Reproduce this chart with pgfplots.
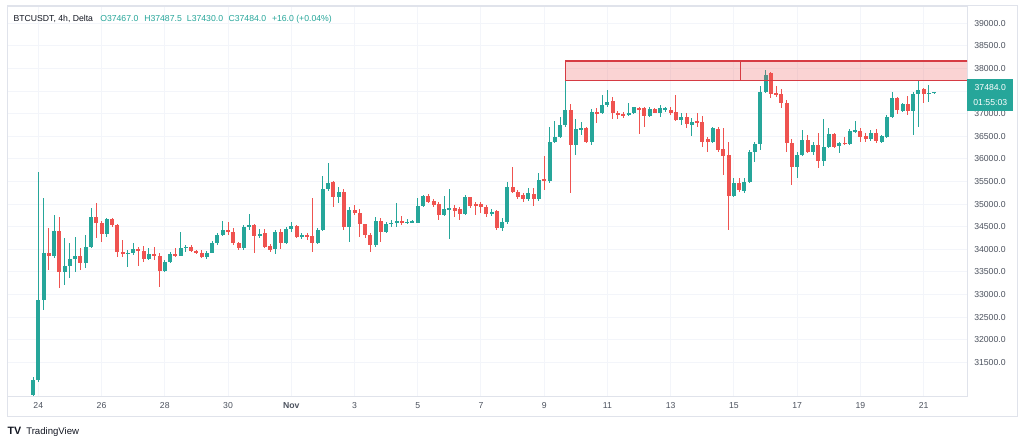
\documentclass[border=0pt]{standalone}
\usepackage{fontspec}
\setmainfont{Liberation Sans}
\usepackage{pgfplots}
\usepackage{pgfplotstable}
\pgfplotsset{compat=1.18}
\definecolor{cgreen}{HTML}{26A69A}
\definecolor{cred}{HTML}{EF5350}
\definecolor{zoneedge}{HTML}{D63B43}
\definecolor{gridc}{HTML}{F3F5FA}
\definecolor{framec}{HTML}{E0E3EB}
\definecolor{txt}{HTML}{131722}
\definecolor{axtxt}{HTML}{4C525E}

\pgfplotstableread{
i o h l c
0 30780 31180 30760 31110
1 31110 35717 31060 32878
2 32878 35142 32657 33912
3 33918 34471 33542 33852
4 33852 34759 33808 34412
5 34412 34721 33137 33504
6 33504 34243 33210 33630
7 33630 34146 33358 33779
8 33779 34265 33504 33852
9 33852 34022 33542 33704
10 33704 34316 33580 34044
11 34044 34907 34022 34708
12 34708 35031 34243 34589
13 34589 34633 34168 34338
14 34338 34686 34265 34664
15 34664 34686 34494 34538
16 34538 34560 33836 33947
17 33947 34206 33836 33896
18 33896 33984 33602 33925
19 33925 34146 33880 34000
20 34000 34044 33630 33970
21 33970 34073 33726 33779
22 33779 34022 33770 33896
23 33896 34044 33763 33852
24 33852 33912 33173 33527
25 33527 33763 33504 33726
26 33726 33947 33690 33896
27 33896 34022 33836 33860
28 33860 34390 33850 34036
29 34036 34095 33947 34060
30 34060 34090 33947 33970
31 33970 33990 33900 33925
32 33925 33975 33800 33823
33 33823 33960 33780 33925
34 33925 34190 33910 34133
35 34133 34368 34100 34316
36 34316 34633 34290 34427
37 34427 34611 34316 34390
38 34390 34480 34100 34133
39 34133 34170 33980 34022
40 34022 34538 33980 34500
41 34500 34774 34427 34538
42 34538 34560 33925 34294
43 34294 34442 34243 34338
44 34354 34442 34022 34057
45 34073 34117 33947 33984
46 34000 34427 33896 34389
47 34389 34442 34000 34133
48 34133 34500 34117 34442
49 34442 34611 34389 34515
50 34515 34538 34243 34265
51 34279 34354 34221 34316
52 34316 34368 34206 34279
53 34294 35128 33947 34133
54 34133 34465 34117 34427
55 34427 35622 34411 35327
56 35327 35916 35296 35473
57 35496 35518 34943 35164
58 35164 35372 35018 35274
59 35274 35327 34427 34500
60 34500 34929 34168 34869
61 34869 34980 34759 34810
62 34810 34885 34265 34560
63 34560 34570 34243 34316
64 34316 34354 33947 34095
65 34095 34721 34044 34633
66 34633 34686 34168 34389
67 34389 34611 34368 34560
68 34560 34648 34500 34589
69 34589 35018 34500 34633
70 34633 34737 34538 34575
71 34589 34664 34560 34611
72 34600 34648 34575 34615
73 34589 35128 34575 34958
74 34958 35201 34929 35179
75 35179 35223 35018 35053
76 35075 35106 34929 34980
77 35002 35053 34648 34759
78 34759 35179 34737 34885
79 34869 35327 34221 34907
80 34907 34980 34721 34854
81 34885 34929 34648 34781
82 34781 35201 34759 35164
83 35150 35164 34907 34958
84 35002 35053 34759 34958
85 35002 35053 34810 34929
86 34943 34980 34721 34781
87 34781 34885 34737 34832
88 34854 34869 34427 34465
89 34465 34686 34411 34611
90 34611 35496 34560 35372
91 35372 35820 35239 35274
92 35274 35312 35106 35150
93 35201 35239 35053 35106
94 35106 35350 35075 35239
95 35223 35350 34958 35106
96 35106 35681 35075 35533
97 35549 36064 35312 35518
98 35518 36699 35460 36381
99 36381 36845 36345 36491
100 36491 36934 36456 36750
101 36750 38160 36712 37082
102 37082 37215 35239 36308
103 36308 36876 36086 36655
104 36639 36823 36529 36677
105 36677 36699 36345 36381
106 36381 37097 36308 37044
107 37044 37119 36787 37009
108 37009 37414 37000 37192
109 37192 37524 37155 37266
110 37288 37376 36876 37009
111 37009 37066 36876 36971
112 36990 37044 36898 36949
113 36971 37243 36949 37022
114 37009 37155 36990 37142
115 37119 37142 36551 37100
116 37119 37142 36712 36949
117 36949 37142 36920 37097
118 37097 37119 37009 37022
119 37022 37192 36920 37119
120 37082 37155 37044 37119
121 37082 37155 36971 37009
122 37044 37414 36845 36861
123 36861 37009 36750 36934
124 36934 37009 36677 36772
125 36750 36898 36507 36823
126 36845 37022 36712 36801
127 36823 36949 36270 36381
128 36434 36491 36159 36381
129 36381 36712 36345 36677
130 36655 36712 36159 36197
131 36212 36677 35644 36064
132 36086 36374 34427 35179
133 35179 35571 35150 35460
134 35460 35571 35274 35312
135 35296 35571 35250 35496
136 35496 36197 35473 36159
137 36159 36381 35938 36330
138 36330 37613 36197 37487
139 37487 37967 37465 37856
140 37894 37930 37341 37436
141 37465 37613 37376 37414
142 37436 37540 37119 37230
143 37230 37303 36159 36345
144 36345 36450 35420 35827
145 35827 36159 35571 36086
146 36086 36639 36064 36418
147 36418 36529 36120 36159
148 36159 36381 36086 36308
149 36308 36566 35792 35960
150 35960 36876 35843 36270
151 36270 36677 36234 36551
152 36551 36566 36250 36270
153 36285 36381 36124 36345
154 36358 36478 36308 36330
155 36330 36655 36308 36624
156 36602 36845 36566 36639
157 36624 36677 36381 36478
158 36507 36566 36381 36434
159 36434 36639 36403 36566
160 36566 36655 36345 36403
161 36381 36529 36358 36507
162 36478 36971 36456 36934
163 36934 37487 36898 37341
164 37341 37363 36990 37082
165 37066 37243 37044 37215
166 37215 37392 36971 37066
167 37066 37487 36529 37436
168 37436 37730 36699 37524
169 37540 37562 37243 37436
170 37436 37635 37266 37465
171 37467 37487.5 37430 37484
}\candles

\begin{document}
\begin{tikzpicture}
\path[use as bounding box] (0pt,0pt) rectangle (768pt,333pt);
\fill[white] (0pt,0pt) rectangle (768pt,333pt);
\begin{axis}[
  at={(5.25pt,36pt)}, anchor=south west,
  scale only axis, width=720pt, height=292.5pt,
  xmin=-0.99, xmax=29.37, ymin=30754.4, ymax=39382.8,
  axis line style={draw=framec, line width=0.75pt},
  xtick={0,2,4,6,8,10,12,14,16,18,20,22,24,26,28},
  xticklabels={24,26,28,30,\textbf{Nov},3,5,7,9,11,13,15,17,19,21},
  ytick={31500,32000,32500,33000,33500,34000,34500,35000,35500,36000,36500,37000,37500,38000,38500,39000},
  yticklabels={31500.0,32000.0,32500.0,33000.0,33500.0,34000.0,34500.0,35000.0,35500.0,36000.0,36500.0,37000.0,,38000.0,38500.0,39000.0},
  scaled y ticks=false, scaled x ticks=false,
  yticklabel pos=right,
  major tick length=0pt,
  grid=major, major grid style={draw=gridc, line width=0.75pt},
  tick label style={font=\fontsize{6.5}{7.8}\selectfont, text=axtxt},
  yticklabel style={anchor=west, inner sep=0pt, xshift=5.25pt},
  xticklabel style={anchor=base, inner sep=0pt, yshift=-9.4pt},
]
% wicks
\addplot[draw=none, mark=none, forget plot, error bars/.cd, y dir=both, y explicit, error mark=none,
  error bar style={draw=cgreen, line width=0.75pt}]
  table[x expr={(\thisrow{i}-1)/6}, y expr={(\thisrow{h}+\thisrow{l})/2}, y error expr={(\thisrow{h}-\thisrow{l})/2},
  restrict expr to domain={\thisrow{c}-\thisrow{o}}{0:100000}] {\candles};
\addplot[draw=none, mark=none, forget plot, error bars/.cd, y dir=both, y explicit, error mark=none,
  error bar style={draw=cred, line width=0.75pt}]
  table[x expr={(\thisrow{i}-1)/6}, y expr={(\thisrow{h}+\thisrow{l})/2}, y error expr={(\thisrow{h}-\thisrow{l})/2},
  restrict expr to domain={\thisrow{o}-\thisrow{c}}{0.001:100000}] {\candles};
% bodies
\addplot[draw=none, mark=none, forget plot, error bars/.cd, y dir=both, y explicit, error mark=none,
  error bar style={draw=cgreen, line width=3pt}]
  table[x expr={(\thisrow{i}-1)/6}, y expr={(\thisrow{o}+\thisrow{c})/2}, y error expr={max(abs(\thisrow{o}-\thisrow{c})/2,11)},
  restrict expr to domain={\thisrow{c}-\thisrow{o}}{0:100000}] {\candles};
\addplot[draw=none, mark=none, forget plot, error bars/.cd, y dir=both, y explicit, error mark=none,
  error bar style={draw=cred, line width=3pt}]
  table[x expr={(\thisrow{i}-1)/6}, y expr={(\thisrow{o}+\thisrow{c})/2}, y error expr={max(abs(\thisrow{o}-\thisrow{c})/2,11)},
  restrict expr to domain={\thisrow{o}-\thisrow{c}}{0.001:100000}] {\candles};
% resistance zone
\addplot[fill=cred, fill opacity=0.25, draw=zoneedge, line width=1.1pt, forget plot]
  coordinates {(16.667,37730) (16.667,38166) (30,38166) (30,37730)} -- cycle;
\addplot[draw=zoneedge, line width=1.1pt, forget plot]
  coordinates {(22.2,37730) (22.2,38166)};
\end{axis}
% outer frame
\draw[framec, line width=0.75pt] (5.25pt,21pt) rectangle (762.75pt,328.5pt);
% current price label
\node[fill=cgreen, text=white, inner sep=0pt, minimum width=34.5pt, minimum height=24pt, align=center,
  anchor=north west, font=\fontsize{6.5}{11}\selectfont] at (725.25pt,273.75pt) {37484.0\\01:55:03};
% header
\begin{scope}[every node/.style={anchor=base west, inner sep=0pt, font=\fontsize{6.5}{7.8}\selectfont}]
\node[text=txt] at (10pt,316.9pt) {BTCUSDT, 4h, Delta};
\node[text=cgreen] at (75pt,316.9pt) {O37467.0};
\node[text=cgreen] at (108pt,316.9pt) {H37487.5};
\node[text=cgreen] at (140pt,316.9pt) {L37430.0};
\node[text=cgreen] at (171.2pt,316.9pt) {C37484.0};
\node[text=cgreen] at (203.8pt,316.9pt) {+16.0 (+0.04\%)};
\end{scope}
% logo
\node[anchor=base west, inner sep=0pt, text=txt, font=\fontsize{8}{9}\bfseries] at (5.5pt,7.5pt) {TV};
\node[anchor=base west, inner sep=0pt, text=txt, font=\fontsize{7.2}{8}\selectfont] at (19.5pt,7.5pt) {TradingView};
\end{tikzpicture}
\end{document}
